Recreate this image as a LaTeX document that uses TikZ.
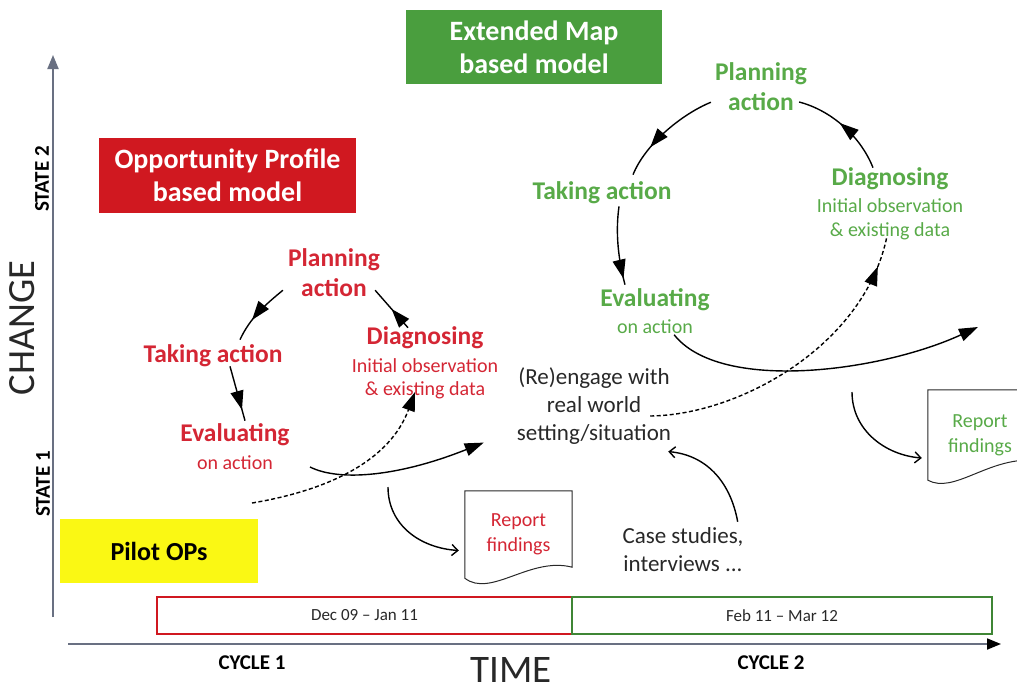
\documentclass[tikz,border=0pt]{standalone}
\usepackage{fontspec}
\setmainfont{Carlito}
\usetikzlibrary{positioning, calc, arrows.meta, decorations.markings}
\definecolor{opred}{RGB}{208,24,32}
\definecolor{lblred}{RGB}{212,38,52}
\definecolor{mapgreen}{RGB}{74,158,62}
\definecolor{lblgreen}{RGB}{88,170,72}
\definecolor{pilotyellow}{RGB}{250,248,20}
\definecolor{axisgray}{RGB}{105,112,130}
\definecolor{txtgray}{RGB}{40,40,40}
\begin{document}
\begin{tikzpicture}[x=1pt, y=-1pt,
     node distance = 0pt and 0pt,
        modelbox/.style = {rectangle, text=white, align=center, inner sep=0pt,
                           font=\bfseries\fontsize{28}{33}\selectfont},
        stage/.style = {align=center, inner sep=1pt, font=\bfseries\fontsize{25.5}{30}\selectfont},
        sub/.style = {align=center, inner sep=1pt, font=\fontsize{20}{23}\selectfont},
        plain/.style = {align=center, inner sep=1pt, text=txtgray, font=\fontsize{23}{28}\selectfont},
        axislbl/.style = {font=\bfseries\fontsize{21}{24}\selectfont},
        period/.style = {rectangle, draw, line width=2pt, outer sep=0pt, minimum height=37pt,
                         font=\fontsize{17}{20}\selectfont, text=txtgray},
        report/.style = {inner sep=0pt, align=center, font=\fontsize{20}{25}\selectfont},
        flow/.style = {line width=1.4pt, black},
        dashflow/.style = {flow, dash pattern=on 4pt off 2.5pt},
        tip/.style = {-{Triangle[length=19pt,width=13pt]}},
        opentip/.style = {-{Straight Barb[length=6pt,width=11pt]}},
        midarrow/.style = {postaction={decorate}, decoration={markings,
                           mark=at position #1 with {\arrow{Triangle[length=19pt,width=13pt]}}}}
                        ]
\useasboundingbox (0,0) rectangle (1017,691);

% axes
\coordinate (ybot) at (53,617);
\coordinate (ytop) at (53,55);
\coordinate (xleft) at (68,644);
\coordinate (xright) at (1001,644);
\draw[axisgray, line width=2pt, -{Triangle[length=14pt,width=11pt]}] (ybot) -- (ytop);
\draw[axisgray, line width=1.8pt, -{Triangle[length=14pt,width=11pt,black]}] (xleft) -- (xright);
\node (change) [rotate=90, font=\fontsize{38.5}{40}\selectfont, text=txtgray] at (22,328) {CHANGE};
\node (time)   [inner sep=0pt, font=\fontsize{39}{40}\selectfont, text=txtgray] at (511,670) {TIME};
\node (state2) [axislbl, rotate=90] at (42,179) {STATE 2};
\node (state1) [axislbl, rotate=90] at (43,484) {STATE 1};
\node (cycle1) [axislbl] at (252,663) {CYCLE 1};
\node (cycle2) [axislbl] at (771,663) {CYCLE 2};

% models and periods
\node (opbox)  [modelbox, fill=opred, minimum width=257pt, minimum height=75pt] at (227.5,175.5) {Opportunity Profile\\based model};
\node (mapbox) [modelbox, fill=mapgreen, minimum width=256pt, minimum height=74pt] at (534,47) {Extended Map\\based model};
\node (pilot)  [rectangle, fill=pilotyellow, minimum width=198pt, minimum height=64pt,
                font=\bfseries\fontsize{26}{30}\selectfont] at (159,551) {Pilot OPs};
\node (tl1) [period, draw=opred, minimum width=415pt] at (364.5,615.5) {Dec 09 -- Jan 11};
\node (tl2) [period, draw=mapgreen!85!black, minimum width=420pt, right=of tl1] {Feb 11 -- Mar 12};

% first cycle
\node (rplan) [stage, text=lblred] at (334,273) {Planning\\action};
\node (rtake) [stage, text=lblred] at (213,356) {Taking action};
\node (reval) [stage, text=lblred] at (235,435) {Evaluating};
\node (revalsub) [sub, text=lblred, below=7pt of reval] {on action};
\node (rdiag) [stage, text=lblred] at (425,338) {Diagnosing};
\node (rdiagsub) [sub, text=lblred, below=7pt of rdiag] {Initial observation\\\& existing data};

\draw[flow, midarrow=0.65] ([xshift=-4pt,yshift=8pt]rplan.south west) .. controls (265,305) and (250,318) .. ([xshift=27pt,yshift=4pt]rtake.north);
\draw[flow, midarrow=0.8] ([xshift=17pt,yshift=2pt]rtake.south) -- ([xshift=10pt,yshift=2pt]reval.north);
\draw[flow, midarrow=0.5] ([xshift=-17pt,yshift=-2pt]rdiag.north) -- ([xshift=-6pt,yshift=8pt]rplan.south east);

% middle
\node (engage) [plain] at (594,406) {(Re)engage with\\real world\\setting/situation};
\node (cases)  [plain] at (683,550) {Case studies,\\interviews ...};
\coordinate (rstart) at (252,503);
\coordinate (rrout) at (310,467);
\coordinate (rreparr) at (388,487);

\draw[dashflow, tip] (rstart) .. controls (330,490) and (390,460) .. ([xshift=-10pt,yshift=8pt]rdiagsub.south);
\draw[flow, tip] (rrout) .. controls (340,482) and (400,476) .. ([xshift=-32pt,yshift=3pt]engage.south west);
\draw[flow, opentip] ([xshift=-7pt,yshift=5pt]cases.north east) .. controls (730,480) and (705,455) .. ([xshift=-4pt,yshift=-6pt]engage.south east);

% first report
\node (rrep) [report, text=lblred, minimum width=107pt, minimum height=87pt] at (518.5,534.5) {Report\\findings};
\draw[line width=1pt, txtgray] (rrep.north west) -- (rrep.south west)
   .. controls ($(rrep.south west)+(26,20)$) and ($(rrep.south east)+(-42,-22)$) .. ($(rrep.south east)+(0,-11)$)
   -- (rrep.north east) -- cycle;
\draw[flow, opentip] (rreparr) .. controls (388,525) and (420,548) .. ([xshift=-6pt,yshift=-16pt]rrep.west);

% second cycle
\node (gplan) [stage, text=lblgreen] at (761,87) {Planning\\action};
\node (gtake) [stage, text=lblgreen] at (602,193) {Taking action};
\node (geval) [stage, text=lblgreen] at (655,300) {Evaluating};
\node (gevalsub) [sub, text=lblgreen, below=6pt of geval] {on action};
\node (gdiag) [stage, text=lblgreen] at (890,179) {Diagnosing};
\node (gdiagsub) [sub, text=lblgreen, below=6pt of gdiag, font=\fontsize{20}{24}\selectfont] {Initial observation\\\& existing data};

\draw[flow, midarrow=0.7] ([xshift=-3pt,yshift=10pt]gplan.south west) .. controls (680,115) and (645,145) .. ([xshift=31pt,yshift=6pt]gtake.north);
\draw[flow, midarrow=0.92] ([xshift=17pt,yshift=-1pt]gtake.south) .. controls (615,235) and (619,262) .. ([xshift=-30pt,yshift=3pt]geval.north);
\draw[flow, midarrow=0.55] ([xshift=-17pt,yshift=-1pt]gdiag.north) .. controls (860,135) and (830,110) .. ([xshift=-9pt,yshift=-15pt]gplan.east);

\coordinate (gout) at (978,327);
\coordinate (greparr) at (852,392);
\draw[dashflow, midarrow=0.9] ([xshift=-22pt,yshift=-10pt]engage.east) .. controls (740,415) and (865,345) .. ([xshift=-3pt,yshift=5pt]gdiagsub.south);
\draw[flow, tip] ([xshift=-20pt]gevalsub.south east) .. controls (720,393) and (880,372) .. (gout);

% second report
\node (grep) [report, text=lblgreen, minimum width=104pt, minimum height=90pt] at (980,435) {Report\\findings};
\draw[line width=1pt, txtgray] (grep.north west) -- (grep.south west)
   .. controls ($(grep.south west)+(26,14)$) and ($(grep.south east)+(-45,-22)$) .. ($(grep.south east)+(0,-20)$)
   -- (grep.north east) -- cycle;
\draw[flow, opentip] (greparr) .. controls (852,430) and (885,455) .. ([xshift=-6pt,yshift=-23pt]grep.west);
\end{tikzpicture}
\end{document}
